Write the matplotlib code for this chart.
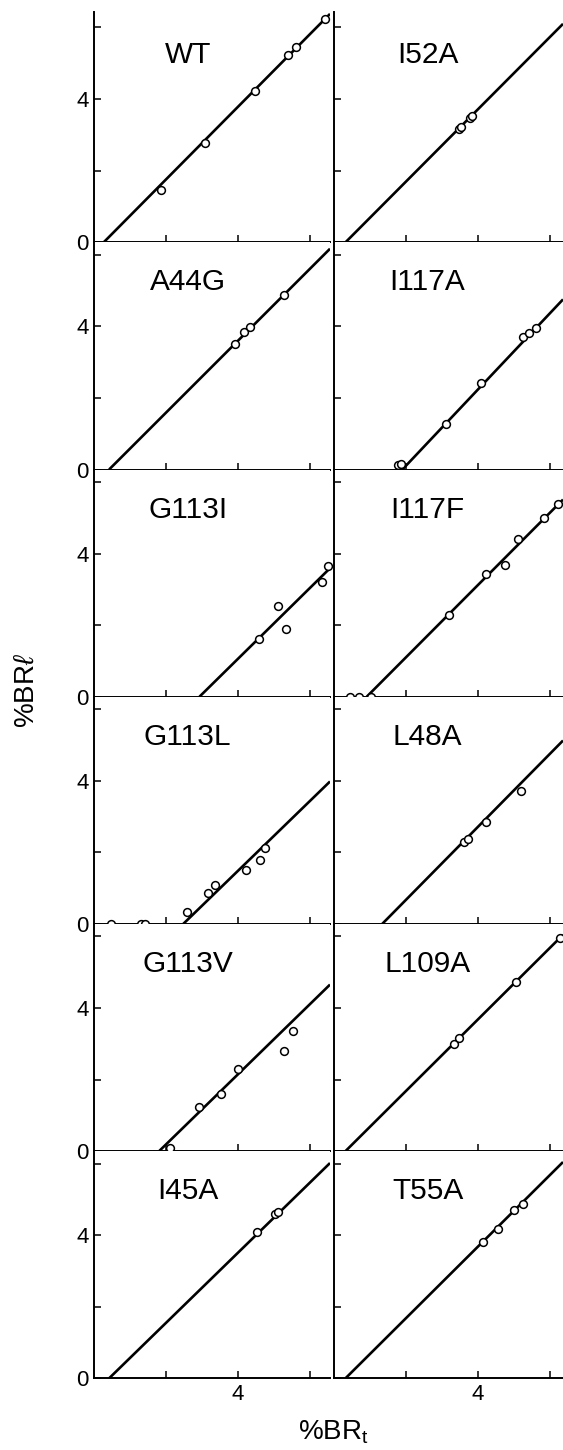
import matplotlib
matplotlib.use("Agg")
import matplotlib.pyplot as plt
import numpy as np

plt.rcParams['font.family'] = ['Liberation Sans', 'DejaVu Sans']
plt.rcParams['mathtext.fontset'] = 'custom'
plt.rcParams['mathtext.rm'] = 'Liberation Sans'
plt.rcParams['mathtext.it'] = 'Liberation Sans:italic'

# Mutants, column by column (left column top to bottom, then right column)
names_left = ['WT', 'A44G', 'G113I', 'G113L', 'G113V', 'I45A']
names_right = ['I52A', 'I117A', 'I117F', 'L48A', 'L109A', 'T55A']

# %BR_t values of the measured points
bx = {
    'WT': [1.85, 3.07, 4.47, 5.40, 5.62, 6.42],
    'A44G': [3.91, 4.18, 4.32, 5.27],
    'G113I': [4.58, 5.11, 5.34, 6.33, 6.49],
    'G113L': [0.46, 1.30, 1.41, 2.58, 3.18, 3.37, 4.23, 4.62, 4.75],
    'G113V': [2.11, 2.92, 3.53, 4.00, 5.29, 5.52],
    'I45A': [4.53, 5.03, 5.10],
    'I52A': [3.48, 3.53, 3.79, 3.84],
    'I117A': [1.78, 1.86, 3.10, 4.09, 5.25, 5.43, 5.60],
    'I117F': [0.44, 0.69, 1.02, 3.19, 4.21, 4.75, 5.11, 5.82, 6.23],
    'L48A': [3.60, 3.71, 4.22, 5.19],
    'L109A': [3.32, 3.48, 5.05, 6.28],
    'T55A': [4.14, 4.55, 4.99, 5.24],
}

# %BR_l values of the measured points
by = {
    'WT': [1.46, 2.78, 4.24, 5.22, 5.45, 6.24],
    'A44G': [3.50, 3.83, 3.99, 4.87],
    'G113I': [1.62, 2.53, 1.90, 3.21, 3.66],
    'G113L': [0.0, 0.0, 0.0, 0.32, 0.87, 1.09, 1.51, 1.79, 2.11],
    'G113V': [0.09, 1.23, 1.59, 2.30, 2.79, 3.36],
    'I45A': [4.10, 4.59, 4.64],
    'I52A': [3.17, 3.22, 3.46, 3.52],
    'I117A': [0.12, 0.14, 1.26, 2.42, 3.69, 3.80, 3.96],
    'I117F': [0.0, 0.0, 0.0, 2.27, 3.42, 3.67, 4.40, 5.00, 5.38],
    'L48A': [2.29, 2.37, 2.84, 3.71],
    'L109A': [2.99, 3.15, 4.72, 5.95],
    'T55A': [3.81, 4.17, 4.69, 4.88],
}

# threshold (x where the fitted line leaves zero) and slope of each fit
threshold = {'WT': 0.27, 'A44G': 0.42, 'G113I': 2.93, 'G113L': 2.48,
             'G113V': 1.81, 'I45A': 0.42, 'I52A': 0.32, 'I117A': 1.90,
             'I117F': 0.91, 'L48A': 1.34, 'L109A': 0.32, 'T55A': 0.32}
slope = {'WT': 1.015, 'A44G': 1.005, 'G113I': 0.99, 'G113L': 0.976,
         'G113V': 0.98, 'I45A': 0.98, 'I52A': 1.01, 'I117A': 1.065,
         'I117F': 1.01, 'L48A': 1.02, 'L109A': 1.0, 'T55A': 1.0}

W, H = 563, 1450
fig = plt.figure(figsize=(W / 100, H / 100), dpi=100)

# panel geometry in pixels
px_per_x = 36.0
px_per_y = 35.8
row_zero = [242.3 + 227.2 * i for i in range(6)]
columns = [(94, 330, names_left), (334, 563, names_right)]

for ci, (x0, x1, names) in enumerate(columns):
    for ri, name in enumerate(names):
        zero = row_zero[ri]
        top = 11.7 if ri == 0 else row_zero[ri - 1]
        ax = fig.add_axes([x0 / W, (H - zero) / H, (x1 - x0) / W, (zero - top) / H])
        xmax = (x1 - x0) / px_per_x
        ax.set_xlim(0, xmax)
        ax.set_ylim(0, (zero - top) / px_per_y)

        # fitted line
        t = threshold[name]
        xl = np.array([t, xmax])
        ax.plot(xl, slope[name] * (xl - t), color='black', lw=1.9,
                solid_capstyle='butt', zorder=2)

        ax.plot(bx[name], by[name], 'o', ms=5.6, mfc='white', mec='black',
                mew=1.1, clip_on=False, zorder=3)

        ax.text(2.6, 5.0, name, ha='center', va='baseline', fontsize=21.5)

        for s in ['top', 'right']:
            ax.spines[s].set_visible(False)
        for s in ['left', 'bottom']:
            ax.spines[s].set_linewidth(1.4)

        ax.set_xticks([2, 4, 6])
        ax.set_yticks([0, 2, 4, 6])
        ax.set_xticklabels(['', '4', ''] if ri == 5 else ['', '', ''])
        ax.set_yticklabels(['0', '', '4', ''] if ci == 0 else ['', '', '', ''])
        ax.tick_params(direction='in', length=5, width=1.1, labelsize=16, pad=4)

fig.text(27 / W, 1 - 690 / H, '%BR$\\ell$', rotation=90, ha='center',
         va='center', fontsize=20)
fig.text(333 / W, 10 / H, '%BR$_\\mathrm{t}$', ha='center', va='baseline',
         fontsize=20)

fig.savefig('out.png', dpi=100)
